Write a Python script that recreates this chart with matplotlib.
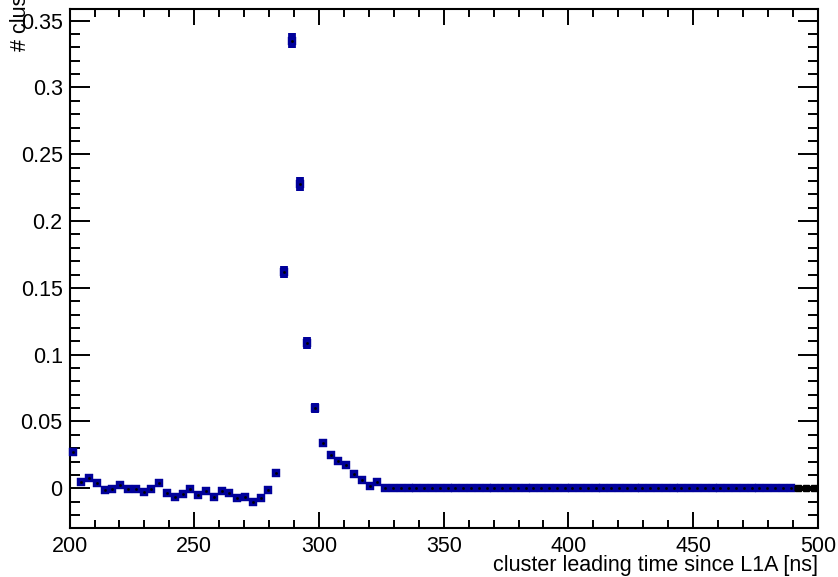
import numpy as np
import matplotlib
matplotlib.use("Agg")
import matplotlib.pyplot as plt
from matplotlib.ticker import MultipleLocator

plt.rcParams['font.family'] = ['Liberation Sans', 'DejaVu Sans']

# histogram binning (ns)
bin_lo, bin_hi, nbins = 200.0, 500.0, 96

# fraction of clusters per bin
values = [0.027, 0.0047, 0.0074, 0.0037, -0.0015, -0.0003, 0.0025, -0.0003,
          -0.0003, -0.003, -0.0003, 0.0037, -0.0035, -0.0067, -0.0042, -0.0003,
          -0.005, -0.0018, -0.0062, -0.0018, -0.0037, -0.007, -0.0062, -0.0099,
          -0.007, -0.0015, 0.0111, 0.162, 0.335, 0.2275, 0.1085, 0.0599,
          0.0339, 0.0252, 0.0202, 0.0177, 0.0105, 0.0062, 0.0019, 0.0049] + [0.0] * 56

errors = [0.0] * 27 + [0.0044, 0.0056, 0.0052, 0.0045, 0.0037] + [0.0] * 64

# number of trailing bins drawn in black in the reference
n_black_tail = 3

xlabel = "cluster leading time since L1A [ns]"
ylabel = "# clusters"

edges = np.linspace(bin_lo, bin_hi, nbins + 1)
centers = 0.5 * (edges[:-1] + edges[1:])
vals = np.array(values)
errs = np.array(errors)

W, H = 838, 577
fig = plt.figure(figsize=(W / 100, H / 100), dpi=100)
ax = fig.add_axes([69.6 / W, 1 - 527.7 / H, (817.8 - 69.6) / W, (527.7 - 9.3) / H])

col = '#00009a'
nb = nbins - n_black_tail
ax.errorbar(centers[:nb], vals[:nb], yerr=errs[:nb], fmt='s', ms=5.6, mfc=col, mec=col,
            mew=0.3, ecolor=col, elinewidth=5.6, capsize=0, clip_on=False, zorder=3)
ax.plot(centers[:nb], vals[:nb], 's', ms=0.9, color='black', zorder=4, clip_on=False)
ax.plot(centers[nb:], vals[nb:], 's-', ms=3.8, lw=3.6, color='black', zorder=4,
        solid_capstyle='butt', clip_on=True)
ax.plot([edges[nb], bin_hi], [vals[nb], vals[-1]], '-', lw=3.6, color='black',
        solid_capstyle='butt', zorder=4)

ax.set_xlim(bin_lo, bin_hi)
ax.set_ylim(-0.0295, 0.3585)

ax.xaxis.set_major_locator(MultipleLocator(50))
ax.xaxis.set_minor_locator(MultipleLocator(10))
ax.yaxis.set_major_locator(MultipleLocator(0.05))
ax.yaxis.set_minor_locator(MultipleLocator(0.01))
ax.yaxis.set_major_formatter(matplotlib.ticker.FuncFormatter(lambda v, p: f"{v:g}" if abs(v) > 1e-9 else "0"))

fs = 15.5
ax.tick_params(axis='both', which='both', direction='in', top=True, right=True,
               width=1.4, labelsize=fs, color='black')
ax.tick_params(axis='x', which='major', length=11.5, pad=6)
ax.tick_params(axis='x', which='minor', length=5.8)
ax.tick_params(axis='y', which='major', length=14.4, pad=5)
ax.tick_params(axis='y', which='minor', length=7.2)
for s in ax.spines.values():
    s.set_linewidth(1.5)

fig.text(817.8 / W, 1 - 571 / H, xlabel, ha='right', va='baseline', fontsize=fs)
fig.text(20 / W, 1 - 51 / H, ylabel, rotation=90, ha='center', va='bottom', fontsize=fs)

fig.savefig('out.png', dpi=100)
